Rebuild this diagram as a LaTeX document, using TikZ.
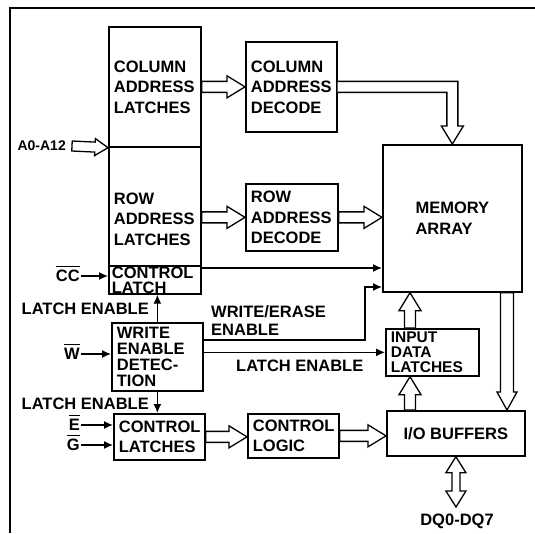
\documentclass[tikz,border=0pt]{standalone}
\usepackage{fontspec}
\setmainfont{Liberation Sans}
\usepackage{tikz}
\usetikzlibrary{positioning,arrows.meta,calc}

\newsavebox\sigbox
\newcommand\barsig[1]{\sbox\sigbox{#1}\smash{\rlap{\rule[14.2pt]{\wd\sigbox}{1.4pt}}}\usebox\sigbox}
\newcommand\fatW{\pgfkeysvalueof{/tikz/fatw}}
\newcommand\fatH{\pgfkeysvalueof{/tikz/fath}}
\newcommand\fatL{\pgfkeysvalueof{/tikz/fatl}}

\tikzset{
  fatw/.initial=5.5pt, fath/.initial=11pt, fatl/.initial=18pt,
  hollow/.style={draw, fill=white, line width=1.3pt, line join=miter, to path={
    ($(\tikztostart)!\fatW!90:(\tikztotarget)$)
    -- ($(\tikztotarget)!\fatL!(\tikztostart)!\fatW!90:(\tikztotarget)$)
    -- ($(\tikztotarget)!\fatL!(\tikztostart)!\fatH!90:(\tikztotarget)$)
    -- (\tikztotarget)
    -- ($(\tikztotarget)!\fatL!(\tikztostart)!\fatH!-90:(\tikztotarget)$)
    -- ($(\tikztotarget)!\fatL!(\tikztostart)!\fatW!-90:(\tikztotarget)$)
    -- ($(\tikztostart)!\fatW!-90:(\tikztotarget)$) -- cycle}},
  hollowtwo/.style={draw, fill=white, line width=1.3pt, line join=miter, to path={
    (\tikztostart)
    -- ($(\tikztostart)!\fatL!(\tikztotarget)!\fatH!90:(\tikztotarget)$)
    -- ($(\tikztostart)!\fatL!(\tikztotarget)!\fatW!90:(\tikztotarget)$)
    -- ($(\tikztotarget)!\fatL!(\tikztostart)!\fatW!90:(\tikztotarget)$)
    -- ($(\tikztotarget)!\fatL!(\tikztostart)!\fatH!90:(\tikztotarget)$)
    -- (\tikztotarget)
    -- ($(\tikztotarget)!\fatL!(\tikztostart)!\fatH!-90:(\tikztotarget)$)
    -- ($(\tikztotarget)!\fatL!(\tikztostart)!\fatW!-90:(\tikztotarget)$)
    -- ($(\tikztostart)!\fatL!(\tikztotarget)!\fatW!-90:(\tikztotarget)$)
    -- ($(\tikztostart)!\fatL!(\tikztotarget)!\fatH!-90:(\tikztotarget)$) -- cycle}},
}

\begin{document}
\begin{tikzpicture}[x=1pt,y=-1pt,
  font=\fontsize{16.5}{20.5}\selectfont\bfseries,
  blk/.style 2 args={draw, line width=1.7pt, anchor=north west, minimum width=#1pt, minimum height=#2pt,
    text width=#1pt-10pt, inner xsep=5pt, inner ysep=0pt, align=left},
  cblk/.style 2 args={draw, line width=1.7pt, anchor=north west, minimum width=#1pt, minimum height=#2pt,
    inner sep=0pt, align=left},
  lbl/.style={inner sep=1pt},
  sig/.style={line width=1.4pt, -{Latex[length=9pt,width=8pt]}}]
\useasboundingbox (0,0) rectangle (535,533);
\draw[line width=1.3pt] (535,8) -- (10,8) -- (10,533);

% blocks
\node[blk={92}{120}] (cal) at (108,26) {COLUMN\\ADDRESS\\LATCHES};
\node[blk={92}{119}] (ral) at (108,146) {\mbox{}\\[16.5pt]ROW\\ADDRESS\\LATCHES};
\node[blk={92}{28}, font=\fontsize{16.5}{15}\selectfont\bfseries, inner xsep=3pt, text width=86pt] (ctl) at (108,265) {CONTROL\\LATCH};
\node[blk={91}{68}, font=\fontsize{16.5}{16.3}\selectfont\bfseries] (wed) at (111,322) {WRITE\\ENABLE\\DETEC-\\TION};
\node[blk={91}{46}] (cls) at (113,413) {CONTROL\\LATCHES};
\node[blk={91}{90}] (cad) at (245,41) {COLUMN\\ADDRESS\\DECODE};
\node[blk={92}{67}] (rad) at (245,183) {ROW\\ADDRESS\\DECODE};
\node[blk={91}{44}] (clg) at (247,413) {CONTROL\\LOGIC};
\node[cblk={139}{147}] (ma) at (382,144) {MEMORY\\ARRAY};
\node[blk={93}{47}, font=\fontsize{15.5}{15}\selectfont\bfseries] (idl) at (385,328) {INPUT\\DATA\\LATCHES};
\node[cblk={138}{45}] (iob) at (386,410) {I/O BUFFERS};

% pins and labels
\node[lbl, anchor=east, font=\fontsize{14}{16}\selectfont\bfseries] (a0) at (67,146) {A0-A12};
\node[lbl, anchor=east] (cc) at (81,276) {\barsig{CC}};
\node[lbl, anchor=east] (w) at (81,354) {\barsig{W}};
\node[lbl, anchor=east] (e) at (81,425) {\barsig{E}};
\node[lbl, anchor=east] (g) at (81,445) {\barsig{G}};
\node[lbl, anchor=east] (le1) at (150,309) {LATCH ENABLE};
\node[lbl, anchor=east] (le2) at (150,404) {LATCH ENABLE};
\node[lbl, anchor=west, align=left, font=\fontsize{16.5}{18}\selectfont\bfseries] (wee) at (210,321) {WRITE/ERASE\\ENABLE};
\node[lbl, anchor=west] (le3) at (235,366) {LATCH ENABLE};
\node[lbl] (dq) at (457,521) {DQ0-DQ7};

\coordinate (ain) at (72,146);
\coordinate (dbus) at (410,0);
\coordinate (rbus) at (507,0);
\coordinate (bend) at (365,287);
\coordinate (dqend) at (456,507);

% buses
\draw[hollow, fatw=5pt, fath=8.5pt, fatl=13pt] (ain) to (cal.south west);
\draw[hollow] (cal.east) to (cad.west);
\draw[hollow] (ral.east |- rad.west) to (rad.west);
\draw[hollow] (rad.east) to (rad.east -| ma.west);
\draw[hollow] (cls.east) to (cls.east -| clg.west);
\draw[hollow] (clg.east) to (clg.east -| iob.west);
\draw[hollow] (dbus |- idl.north) to (dbus |- ma.south);
\draw[hollow] (dbus |- iob.north) to (dbus |- idl.south);
\draw[hollow, fatw=6.5pt, fath=10pt] (rbus |- ma.south) to (rbus |- iob.north);
\draw[hollowtwo, fatw=4pt, fath=10pt, fatl=16pt] (iob.south) to (dqend);
\draw[line width=1.3pt, line join=miter, fill=white] ($(cad.east)+(0,-5.5)$) -- ($(ma.north |- cad.east)+(5.5,-5.5)$)
  -- ($(ma.north)+(5.5,-18)$) -- ($(ma.north)+(11,-18)$) -- (ma.north) -- ($(ma.north)+(-11,-18)$)
  -- ($(ma.north)+(-5.5,-18)$) -- ($(ma.north |- cad.east)+(-5.5,5.5)$) -- ($(cad.east)+(0,5.5)$);

% control lines
\draw[sig] (cc.east) -- (cc.east -| ctl.west);
\draw[sig] (w.east) -- (w.east -| wed.west);
\draw[sig] (e.east) -- (e.east -| cls.west);
\draw[sig] (g.east) -- (g.east -| cls.west);
\draw[sig] (wed.north) -- (wed.north |- ctl.south);
\draw[sig] (wed.south) -- (wed.south |- cls.north);
\draw[sig] ($(ctl.north east)+(0,3)$) -- ($(ctl.north east -| ma.west)+(0,3)$);
\draw[sig] ($(wed.north east)+(0,18)$) -| (bend) -- (bend -| ma.west);
\draw[sig] (wed.east |- idl.west) -- (idl.west);
\end{tikzpicture}
\end{document}
